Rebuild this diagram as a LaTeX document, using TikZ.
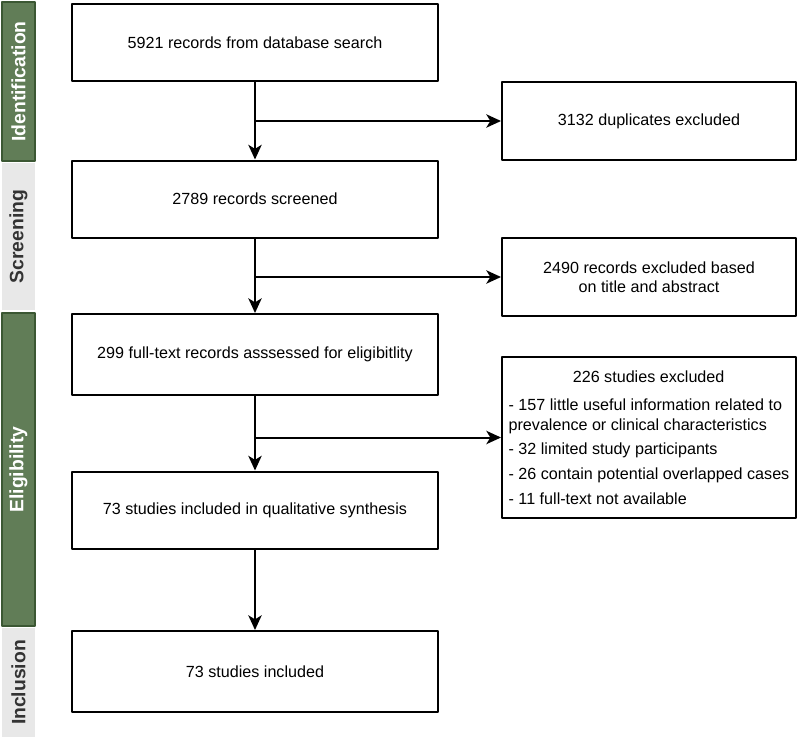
\documentclass[tikz,border=0pt]{standalone}
\usepackage{fontspec}
\setmainfont{Liberation Sans}
\usetikzlibrary{arrows.meta,positioning}
\definecolor{wwttqq}{rgb}{0.38,0.49,0.34}
\definecolor{qqwwqq}{rgb}{0.23,0.34,0.20}
\definecolor{ebebeb}{rgb}{0.91,0.91,0.91}
\definecolor{zzzzzz}{rgb}{0.2,0.2,0.2}

\begin{document}
\begin{tikzpicture}[line cap=round,line join=round,>={Stealth[length=11pt,width=10pt,inset=3pt]},x=0.75pt,y=-0.75pt,
  box/.style={draw,line width=1.5pt,minimum width=274.5pt,minimum height=57.75pt,inner sep=0pt,align=center,font=\fontsize{12.1}{14}\selectfont},
  sidebox/.style={box,minimum width=220.5pt,minimum height=58.5pt},
  phase/.style={rotate=90,inner sep=0pt,minimum height=24.75pt,font=\bfseries\fontsize{14.5}{16}\selectfont},
  phasedark/.style={phase,fill=wwttqq,draw=qqwwqq,line width=1.1pt,text=white},
  phaselight/.style={phase,fill=ebebeb,text=zzzzzz}]
\useasboundingbox (0,0) rectangle (800,739);
% phase bars
\node[phasedark,minimum width=119.25pt] (pid) at (18.5,81.5) {Identification};
\node[phaselight,minimum width=110.25pt] (pscr) at (18.5,236.5) {Screening};
\node[phasedark,minimum width=234.75pt] (pel) at (18.5,469.5) {Eligibility};
\node[phaselight,minimum width=81.75pt] (pinc) at (18.5,682.5) {Inclusion};
% main column
\node[box] (b1) at (255,42.5) {5921 records from database search};
\node[box] (b2) at (255,199) {2789 records screened};
\node[box,minimum height=60.75pt] (b3) at (255,354.5) {299 full-text records asssessed for eligibitlity};
\node[box] (b4) at (255,510) {73 studies included in qualitative synthesis};
\node[box,minimum height=60.75pt] (b5) at (255,671.5) {73 studies included};
% exclusions
\node[sidebox,minimum height=120.75pt,align=left,font=\fontsize{12.1}{15}\selectfont] (r3) at (649,437.5)
  {\makebox[210pt]{226 studies excluded}\\[6pt]
   - 157 little useful information related to\\
   prevalence or clinical characteristics\\[3.5pt]
   - 32 limited study participants\\[3.5pt]
   - 26 contain potential overlapped cases\\[3.5pt]
   - 11 full-text not available};
\node[sidebox] (r1) at (649,121) {3132 duplicates excluded};
\node[sidebox] (r2) at (649,277) {2490 records excluded based\\on title and abstract};
% arrows
\coordinate (j1) at (b1.south |- r1.west);
\coordinate (j2) at (b2.south |- r2.west);
\coordinate (j3) at (b3.south |- r3.west);
\draw[line width=1.5pt,->] (b1.south) -- (b2.north);
\draw[line width=1.5pt,->] (b2.south) -- (b3.north);
\draw[line width=1.5pt,->] (b3.south) -- (b4.north);
\draw[line width=1.5pt,->] (b4.south) -- (b5.north);
\draw[line width=1.5pt,->] (j1) -- (r1.west);
\draw[line width=1.5pt,->] (j2) -- (r2.west);
\draw[line width=1.5pt,->] (j3) -- (r3.west);
\end{tikzpicture}
\end{document}
